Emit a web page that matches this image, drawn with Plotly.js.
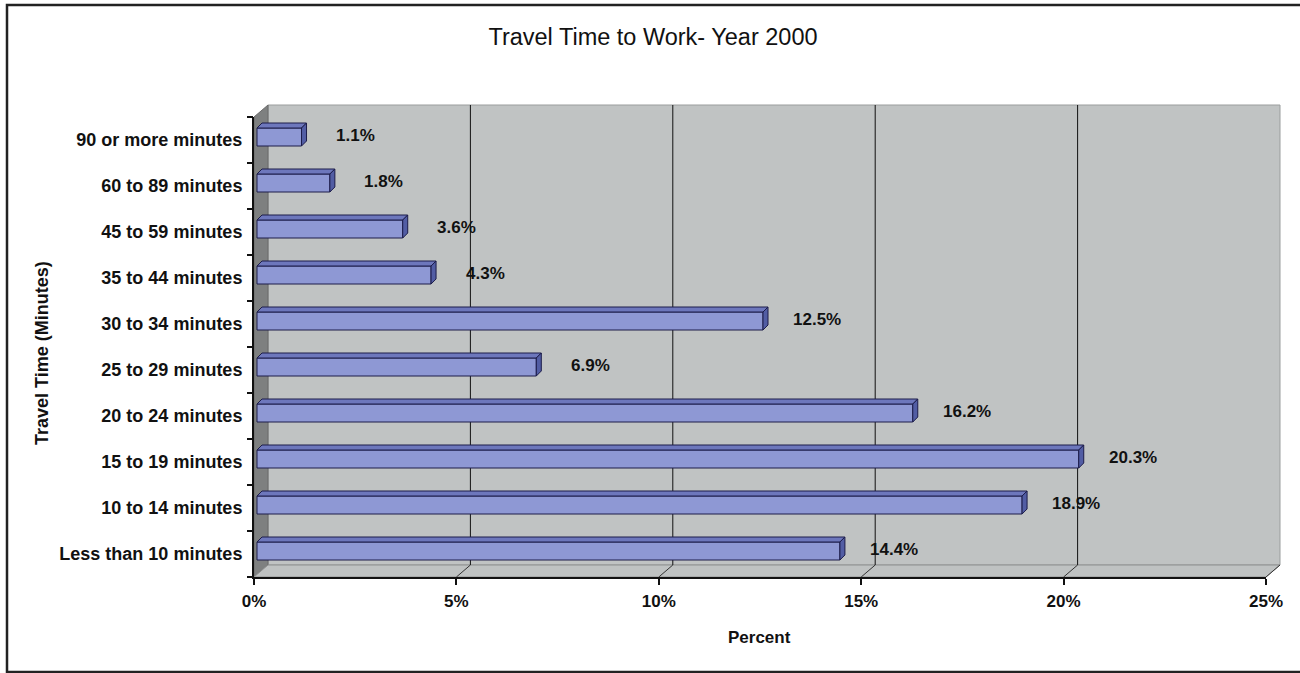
<!DOCTYPE html>
<html>
<head>
<meta charset="utf-8">
<script src="https://cdn.plot.ly/plotly-3.0.1.min.js"></script>
<style>html,body{margin:0;padding:0;background:#fff;}#chart{width:1300px;height:673px;}</style>
</head>
<body>
<div id="chart"></div>
<script>
// ---- data ----
var categories = ["Less than 10 minutes","10 to 14 minutes","15 to 19 minutes","20 to 24 minutes","25 to 29 minutes","30 to 34 minutes","35 to 44 minutes","45 to 59 minutes","60 to 89 minutes","90 or more minutes"];
var values = [14.4, 18.9, 20.3, 16.2, 6.9, 12.5, 4.3, 3.6, 1.8, 1.1];
var xTickVals = [0, 5, 10, 15, 20, 25];
var xTickText = ["0%", "5%", "10%", "15%", "20%", "25%"];

// ---- geometry helpers (pixel -> data) ----
var W = 1300, H = 673, ML = 254, MR = 34, MT = 117, MB = 96;
var PW = W - ML - MR, PH = H - MT - MB;
var XMAX = 25, NCAT = categories.length;
var pxX = XMAX / PW, pxY = NCAT / PH;
var depthX = 14 / PW, depthY = 12 / PH; // wall depth in paper units

var idx = categories.map(function (c, i) { return i; });
var base = 3 * pxX;
var faceCenter = idx.map(function (i) { return i + 3 * pxY; });
var dX = 5 * pxX, dY = 5 * pxY;

var topX = [], topY = [], sideX = [], sideY = [];
values.forEach(function (v, i) {
  var yt = i + 12 * pxY, yb = i - 6 * pxY;
  var x0 = base, x1 = base + v;
  topX.push(x0, x0 + dX, x1 + dX, x1, x0, null);
  topY.push(yt, yt + dY, yt + dY, yt, yt, null);
  sideX.push(x1, x1 + dX, x1 + dX, x1, x1, null);
  sideY.push(yt, yt + dY, yb + dY, yb, yt, null);
});

var outline = '#1c1c4a';
var font = '"Liberation Sans", Arial, sans-serif';

var traces = [
  { type: 'bar', orientation: 'h', x: values, y: faceCenter, base: base, width: 18 * pxY,
    marker: { color: '#8e98d4', line: { color: outline, width: 1 } }, hoverinfo: 'skip', showlegend: false },
  { type: 'scatter', mode: 'lines', x: topX, y: topY, fill: 'toself', fillcolor: '#6d77bc',
    line: { color: outline, width: 1 }, hoverinfo: 'skip', showlegend: false },
  { type: 'scatter', mode: 'lines', x: sideX, y: sideY, fill: 'toself', fillcolor: '#525da4',
    line: { color: outline, width: 1 }, hoverinfo: 'skip', showlegend: false },
  { type: 'scatter', mode: 'markers', x: [0], y: [0], yaxis: 'y2', marker: { opacity: 0 }, hoverinfo: 'skip', showlegend: false }
];

var shapes = [];
// back wall
shapes.push({ type: 'rect', xref: 'paper', yref: 'paper', x0: depthX, x1: 1 + depthX, y0: depthY, y1: 1 + depthY,
  fillcolor: '#c0c3c3', line: { color: '#9a9d9d', width: 1 }, layer: 'below' });
// left wall
shapes.push({ type: 'path', xref: 'paper', yref: 'paper',
  path: 'M 0 0 L 0 1 L ' + depthX + ' ' + (1 + depthY) + ' L ' + depthX + ' ' + depthY + ' Z',
  fillcolor: '#7e8080', line: { color: '#6a6a6a', width: 1 }, layer: 'below' });
// floor
shapes.push({ type: 'path', xref: 'paper', yref: 'paper',
  path: 'M 0 0 L ' + depthX + ' ' + depthY + ' L ' + (1 + depthX) + ' ' + depthY + ' L 1 0 Z',
  fillcolor: '#bfc2c2', line: { color: '#8e9090', width: 1 }, layer: 'below' });
// gridlines on back wall + floor diagonals
xTickVals.forEach(function (t) {
  var px = t / XMAX;
  if (t > 0 && t < XMAX) {
    shapes.push({ type: 'line', xref: 'paper', yref: 'paper', x0: px + depthX, x1: px + depthX, y0: depthY, y1: 1 + depthY,
      line: { color: '#111', width: 1 }, layer: 'below' });
  }
  if (t > 0) {
    shapes.push({ type: 'line', xref: 'paper', yref: 'paper', x0: px, x1: px + depthX, y0: 0, y1: depthY,
      line: { color: '#333', width: 1 }, layer: 'below' });
  }
});
// outer border
shapes.push({ type: 'rect', xref: 'paper', yref: 'paper',
  x0: (7 - ML) / PW, x1: (1320 - ML) / PW, y0: (MT + PH - 672) / PH, y1: (MT + PH - 5) / PH,
  line: { color: '#222', width: 2.5 }, fillcolor: 'rgba(0,0,0,0)', layer: 'above' });

var annotations = values.map(function (v, i) {
  return { x: v, y: i, xref: 'x', yref: 'y', text: v.toFixed(1) + '%', showarrow: false,
    xanchor: 'center', yanchor: 'middle', xshift: 57, yshift: 5,
    font: { family: font, size: 17, color: '#111', weight: 'bold' } };
});
annotations.push({ xref: 'paper', yref: 'paper', x: (42 - ML) / PW, y: (MT + PH - 353) / PH,
  text: 'Travel Time (Minutes)', textangle: -90, showarrow: false, xanchor: 'center', yanchor: 'middle',
  font: { family: font, size: 18, color: '#111', weight: 'bold' } });
annotations.push({ xref: 'paper', yref: 'paper', x: (759 - ML) / PW, y: (MT + PH - 637) / PH,
  text: 'Percent', showarrow: false, xanchor: 'center', yanchor: 'middle',
  font: { family: font, size: 17, color: '#111', weight: 'bold' } });

var layout = {
  width: W, height: H,
  margin: { l: ML, r: MR, t: MT, b: MB, pad: 0 },
  paper_bgcolor: '#ffffff', plot_bgcolor: 'rgba(0,0,0,0)',
  title: { text: 'Travel Time to Work- Year 2000', x: 653 / W, xanchor: 'center', y: 1 - 37 / H, yanchor: 'middle',
    font: { family: font, size: 23.5, color: '#111', weight: 500 } },
  xaxis: { range: [0, XMAX], tickvals: xTickVals, ticktext: xTickText, showgrid: false, zeroline: false,
    showline: true, linecolor: '#111', linewidth: 2, ticks: 'outside', ticklen: 6, tickwidth: 2, tickcolor: '#111',
    tickfont: { family: font, size: 17, color: '#111', weight: 'bold' }, ticklabelstandoff: 2, fixedrange: true },
  yaxis: { range: [-0.5, NCAT - 0.5], tickvals: idx, ticktext: categories, showgrid: false, zeroline: false,
    showline: true, linecolor: '#111', linewidth: 2, ticks: '', ticklabelstandoff: 6,
    tickfont: { family: font, size: 18, color: '#111', weight: 'bold' }, fixedrange: true },
  yaxis2: { overlaying: 'y', side: 'left', range: [-0.5, NCAT - 0.5],
    tickvals: idx.concat([NCAT]).map(function (i) { return i - 0.5; }), showticklabels: false,
    ticks: 'outside', ticklen: 6, tickwidth: 2, tickcolor: '#111', showgrid: false, zeroline: false, showline: false, fixedrange: true },
  shapes: shapes,
  annotations: annotations,
  showlegend: false,
  bargap: 0
};

Plotly.newPlot('chart', traces, layout, { displayModeBar: false, staticPlot: true });
</script>
</body>
</html>
